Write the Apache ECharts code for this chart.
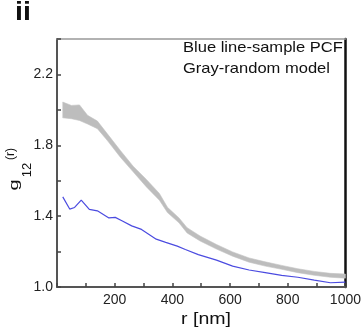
<!DOCTYPE html>
<html><head><meta charset="utf-8">
<script src="https://cdn.jsdelivr.net/npm/echarts@6/dist/echarts.min.js"></script>
<style>html,body{margin:0;padding:0;background:#fff}#c{width:364px;height:335px}</style>
</head><body><div id="c"></div>
<script>
// Gray band (random model envelope)
const grayR     = [20, 50, 78, 106, 140, 174, 219, 264, 310, 355, 383, 423, 451, 496, 553, 609, 666, 722, 779, 835, 892, 948, 1000];
const grayUpper = [2.044, 2.025, 2.028, 1.969, 1.937, 1.866, 1.772, 1.682, 1.607, 1.528, 1.45, 1.39, 1.335, 1.288, 1.24, 1.198, 1.164, 1.142, 1.122, 1.103, 1.088, 1.077, 1.073];
const grayLower = [1.955, 1.95, 1.94, 1.92, 1.894, 1.828, 1.734, 1.65, 1.565, 1.49, 1.42, 1.362, 1.305, 1.26, 1.214, 1.174, 1.14, 1.118, 1.1, 1.081, 1.066, 1.055, 1.05];
// Blue line (sample PCF)
const blueR = [20, 44, 61, 84, 112, 140, 180, 202, 225, 259, 293, 344, 377, 417, 445, 490, 553, 609, 666, 722, 779, 835, 892, 948, 1000];
const blueG = [1.509, 1.44, 1.449, 1.49, 1.438, 1.43, 1.39, 1.393, 1.374, 1.345, 1.325, 1.27, 1.252, 1.231, 1.212, 1.183, 1.152, 1.118, 1.096, 1.081, 1.066, 1.055, 1.039, 1.024, 1.028];
// Axes
const xMin = 0, xMax = 1000, xStep = 100;
const yMin = 1.0, yMax = 2.4, yStep = 0.2;
const xLabelValues = [200, 400, 600, 800, 1000];
const yLabelValues = [1.0, 1.4, 1.8, 2.2];

const blueData = blueR.map((r, i) => [r, blueG[i]]);
const bandData = grayR.map((r, i) => [r, grayLower[i], grayUpper[i]]);

const FONT = '"Liberation Sans", Arial, sans-serif';
function txt(x, y, text, font, align, extra) {
  return Object.assign({type: 'text', x: x, y: y, z: 100,
    style: {text: text, font: font, fill: '#111', align: align, verticalAlign: 'middle'}}, extra || {});
}
const chart = echarts.init(document.getElementById('c'), null, {renderer: 'canvas'});
chart.setOption({
  animation: false,
  grid: {left: 57, right: 12, top: 39, bottom: 48},
  xAxis: [{
    type: 'value', min: xMin, max: xMax, interval: xStep,
    axisLine: {onZero: false, lineStyle: {color: '#555', width: 2}},
    axisTick: {inside: true, length: 4, lineStyle: {color: '#444', width: 1.5}},
    axisLabel: {fontFamily: FONT, fontSize: 14, color: '#222', margin: 6,
      formatter: v => xLabelValues.includes(v) ? String(v) : ''},
    splitLine: {show: false}
  }, {
    type: 'value', position: 'top', min: xMin, max: xMax,
    axisLine: {show: true, onZero: false, lineStyle: {color: '#999', width: 1.5}},
    axisTick: {show: false}, axisLabel: {show: false}, splitLine: {show: false}
  }],
  yAxis: [{
    type: 'value', min: yMin, max: yMax, interval: yStep,
    axisLine: {show: true, onZero: false, lineStyle: {color: '#555', width: 2}},
    axisTick: {inside: true, length: 4, lineStyle: {color: '#444', width: 1.5}},
    axisLabel: {fontFamily: FONT, fontSize: 14, color: '#222', margin: 4,
      formatter: v => yLabelValues.some(t => Math.abs(t - v) < 1e-6) ? v.toFixed(1) : ''},
    splitLine: {show: false}
  }, {
    type: 'value', position: 'right', min: yMin, max: yMax,
    axisLine: {show: true, onZero: false, lineStyle: {color: '#111', width: 2.5}},
    axisTick: {show: false}, axisLabel: {show: false}, splitLine: {show: false}
  }],
  series: [{
    type: 'custom', data: bandData, silent: true,
    encode: {x: 0, y: [1, 2]},
    renderItem: function (params, api) {
      if (params.dataIndex !== 0) return null;
      const up = bandData.map(d => api.coord([d[0], d[2]]));
      const lo = bandData.slice().reverse().map(d => api.coord([d[0], d[1]]));
      return {type: 'polygon', shape: {points: up.concat(lo)},
        style: {fill: '#bdbdbd', stroke: '#c2c2c2', lineWidth: 0.6}};
    }
  }, {
    type: 'line', data: blueData, symbol: 'none', silent: true, z: 3,
    lineStyle: {color: '#4b4be0', width: 1.2}
  }],
  graphic: [
    txt(15, 13, 'ii', 'bold 26px ' + FONT, 'left', {scaleX: 1.1}),
    txt(183, 48.2, 'Blue line-sample PCF', '14.5px ' + FONT, 'left', {scaleX: 1.14}),
    txt(183, 69.2, 'Gray-random model', '14.5px ' + FONT, 'left', {scaleX: 1.14}),
    txt(206, 319, 'r [nm]', '17px ' + FONT, 'center', {scaleX: 1.15}),
    txt(13.8, 185, 'g', '16px ' + FONT, 'center', {rotation: Math.PI / 2, scaleX: 1.25, scaleY: 0.85}),
    txt(27.5, 170, '12', '13px ' + FONT, 'center', {rotation: Math.PI / 2}),
    txt(10.7, 154, '(r)', '12px ' + FONT, 'center', {rotation: Math.PI / 2})
  ]
});
</script></body></html>
